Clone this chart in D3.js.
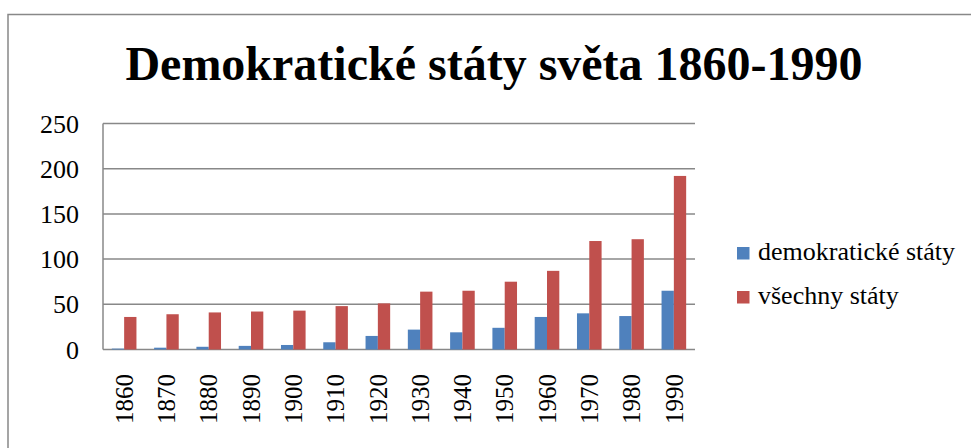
<!DOCTYPE html>
<html>
<head>
<meta charset="utf-8">
<script src="https://cdn.jsdelivr.net/npm/d3@7"></script>
<style>
  html, body { margin: 0; padding: 0; background: #fff; }
  svg { display: block; }
</style>
</head>
<body>
<svg id="chart" width="971" height="448"></svg>
<script>
const title = "Demokratické státy světa 1860-1990";
const years = ["1860","1870","1880","1890","1900","1910","1920","1930","1940","1950","1960","1970","1980","1990"];
const seriesNames = ["demokratické státy", "všechny státy"];
const democratic = [1, 2, 3, 4, 5, 8, 15, 22, 19, 24, 36, 40, 37, 65];
const allStates  = [36, 39, 41, 42, 43, 48, 51, 64, 65, 75, 87, 120, 122, 192];
const yTicks = [0, 50, 100, 150, 200, 250];
const colors = ["#4F81BD", "#C0504D"];

const FONT = "Liberation Serif";
const svg = d3.select("#chart");
const gridColor = "#888888";

// outer frame
svg.append("rect")
  .attr("x", 8).attr("y", 14.5)
  .attr("width", 1000).attr("height", 1000)
  .attr("fill", "none").attr("stroke", gridColor).attr("stroke-width", 1.5);

// title
svg.append("text")
  .attr("x", 494).attr("y", 80)
  .attr("text-anchor", "middle")
  .style("font-family", FONT)
  .style("font-size", "48px").style("font-weight", "bold")
  .text(title);

const plot = { left: 103, right: 695, top: 123.5, bottom: 349.5 };

const x0 = d3.scaleBand().domain(years)
  .range([plot.left, plot.right])
  .paddingInner(0.418).paddingOuter(0.209);
const x1 = d3.scaleBand().domain(seriesNames).range([0, x0.bandwidth()]);
const y = d3.scaleLinear().domain([0, 250]).range([plot.bottom, plot.top]);

// gridlines
svg.append("g").selectAll("line").data(yTicks).join("line")
  .attr("x1", plot.left).attr("x2", plot.right)
  .attr("y1", d => y(d)).attr("y2", d => y(d))
  .attr("stroke", gridColor).attr("stroke-width", 1.5);

// y axis line
svg.append("line")
  .attr("x1", plot.left).attr("x2", plot.left)
  .attr("y1", plot.top).attr("y2", plot.bottom)
  .attr("stroke", gridColor).attr("stroke-width", 1.5);

// y labels
svg.append("g").selectAll("text").data(yTicks).join("text")
  .attr("x", 79).attr("y", d => y(d))
  .attr("dy", "0.35em")
  .attr("text-anchor", "end")
  .style("font-family", FONT)
  .style("font-size", "26px")
  .text(d => d);

// bars
const seriesData = [democratic, allStates];
seriesNames.forEach((name, si) => {
  svg.append("g").selectAll("rect").data(years).join("rect")
    .attr("x", d => x0(d) + x1(name))
    .attr("width", x1.bandwidth())
    .attr("y", (d, i) => y(seriesData[si][i]))
    .attr("height", (d, i) => y(0) - y(seriesData[si][i]))
    .attr("fill", colors[si]);
});

// x labels (rotated)
svg.append("g").selectAll("text").data(years).join("text")
  .attr("transform", d => `translate(${x0(d) + x0.bandwidth() / 2},374) rotate(-90)`)
  .attr("dy", "0.35em")
  .attr("text-anchor", "end")
  .style("font-family", FONT)
  .style("font-size", "25px")
  .text(d => d);

// legend
const legend = svg.append("g").selectAll("g").data(seriesNames).join("g")
  .attr("transform", (d, i) => `translate(737,${247 + i * 44})`);
legend.append("rect")
  .attr("width", 12.5).attr("height", 12.5)
  .attr("fill", (d, i) => colors[i]);
legend.append("text")
  .attr("x", 21).attr("y", 12.5)
  .style("font-family", FONT)
  .style("font-size", "26px")
  .text(d => d);
</script>
</body>
</html>
